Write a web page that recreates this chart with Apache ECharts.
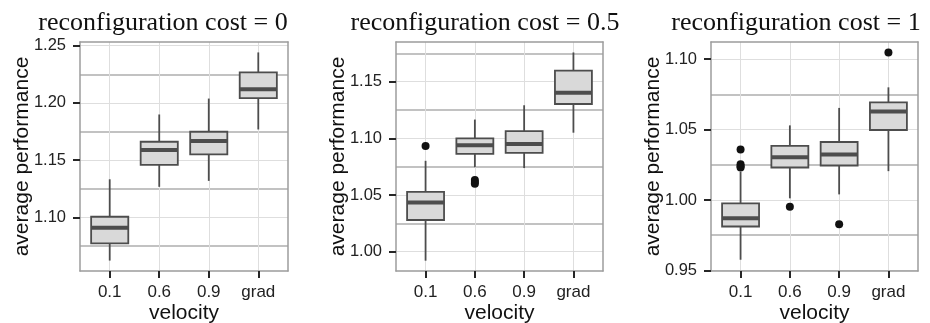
<!DOCTYPE html>
<html>
<head>
<meta charset="utf-8">
<script src="https://cdn.jsdelivr.net/npm/echarts@6/dist/echarts.min.js"></script>
<style>
html,body{margin:0;padding:0;background:#fff;}
#chart{width:930px;height:323px;}
</style>
</head>
<body>
<div id="chart"></div>
<script>
// ---- data ----
const velocity = ['0.1', '0.6', '0.9', 'grad'];
const panelTitles = ['reconfiguration cost = 0', 'reconfiguration cost = 0.5', 'reconfiguration cost = 1'];

// [lower whisker, Q1, median, Q3, upper whisker] per velocity
const boxCost0 = [
  [1.0623, 1.0774, 1.0910, 1.1006, 1.1333],
  [1.1267, 1.1458, 1.1588, 1.1661, 1.1899],
  [1.1319, 1.1551, 1.1667, 1.1748, 1.2038],
  [1.1768, 1.2041, 1.2119, 1.2267, 1.2441]
];
const boxCost05 = [
  [0.9921, 1.0280, 1.0434, 1.0528, 1.0802],
  [1.0746, 1.0863, 1.0939, 1.1000, 1.1166],
  [1.0738, 1.0872, 1.0950, 1.1064, 1.1292],
  [1.1050, 1.1303, 1.1402, 1.1598, 1.1758]
];
const boxCost1 = [
  [0.9576, 0.9812, 0.9871, 0.9976, 1.0200],
  [1.0012, 1.0231, 1.0304, 1.0384, 1.0530],
  [1.0040, 1.0245, 1.0323, 1.0412, 1.0654],
  [1.0205, 1.0497, 1.0629, 1.0694, 1.0800]
];
// outliers: [velocity index, value]
const outCost0 = [];
const outCost05 = [[0, 1.0933], [1, 1.0632], [1, 1.0615], [1, 1.0600]];
const outCost1 = [[0, 1.0358], [0, 1.0254], [0, 1.0240], [0, 1.0231], [1, 0.9953], [2, 0.9828], [3, 1.1048]];

const yTicks0 = [1.10, 1.15, 1.20, 1.25];
const yTicks05 = [1.00, 1.05, 1.10, 1.15];
const yTicks1 = [0.95, 1.00, 1.05, 1.10];
const yMinor0 = [1.075, 1.125, 1.175, 1.225];
const yMinor05 = [1.025, 1.075, 1.125, 1.175];
const yMinor1 = [0.975, 1.025, 1.075];
const yRange0 = [1.0532, 1.2532];
const yRange05 = [0.9830, 1.1850];
const yRange1 = [0.9496, 1.1122];
const xTicks = [1, 2, 3, 4];
const xRange = [0.4, 4.6];

// ---- layout ----
const grids = [
  {left: 80, top: 42, width: 208, height: 229},
  {left: 396, top: 42, width: 207, height: 229},
  {left: 711, top: 42, width: 207, height: 229}
];
const titleCenters = [158, 480, 791];

const panels = [
  {box: boxCost0, out: outCost0, ticks: yTicks0, minor: yMinor0, range: yRange0},
  {box: boxCost05, out: outCost05, ticks: yTicks05, minor: yMinor05, range: yRange05},
  {box: boxCost1, out: outCost1, ticks: yTicks1, minor: yMinor1, range: yRange1}
];

const sans = 'Liberation Sans, Arial, Helvetica, sans-serif';
const serif = 'Liberation Serif, Times New Roman, serif';
const dark = '#4D4D4D';
const borderCol = '#9c9c9c';
const tickCol = '#262626';
const TICK_LEN = 7;
const borderLine = {show: true, onZero: false, lineStyle: {color: borderCol, width: 1.5}};
const tickStyle = {show: true, inside: false, length: TICK_LEN, lineStyle: {color: tickCol, width: 2}};

const option = {
  animation: false,
  backgroundColor: '#ffffff',
  title: panelTitles.map((t, i) => ({
    text: t, left: titleCenters[i], top: 5, textAlign: 'center',
    textStyle: {fontFamily: serif, fontSize: 26, fontWeight: 'normal', color: '#111'}
  })),
  grid: grids.map(g => Object.assign({show: false, outerBoundsMode: 'none', containLabel: false}, g)),
  xAxis: [],
  yAxis: [],
  series: []
};

panels.forEach((p, i) => {
  // bottom x axis: labels, ticks, vertical grid lines
  option.xAxis.push({
    type: 'value', gridIndex: i, min: xRange[0], max: xRange[1], position: 'bottom',
    name: 'velocity', nameLocation: 'middle', nameGap: 32, nameMoveOverlap: false,
    nameTextStyle: {fontFamily: sans, fontSize: 21, color: '#111'},
    axisLine: borderLine,
    axisTick: Object.assign({customValues: xTicks}, tickStyle),
    axisLabel: {customValues: xTicks, margin: 13, fontFamily: sans, fontSize: 17, color: '#222',
      formatter: v => velocity[Math.round(v) - 1]},
    splitLine: {show: true, lineStyle: {color: '#dedede', width: 1}}
  });
  // top x axis: only the panel border
  option.xAxis.push({
    type: 'value', gridIndex: i, min: xRange[0], max: xRange[1], position: 'top',
    axisLine: borderLine, axisTick: {show: false}, axisLabel: {show: false}, splitLine: {show: false}
  });
  // left y axis (labels, ticks, major grid)
  option.yAxis.push({
    type: 'value', gridIndex: i, min: p.range[0], max: p.range[1], position: 'left',
    name: 'average performance', nameLocation: 'middle', nameGap: 47, nameMoveOverlap: false,
    nameTextStyle: {fontFamily: sans, fontSize: 21, color: '#111'},
    axisLine: borderLine,
    axisTick: Object.assign({customValues: p.ticks}, tickStyle),
    axisLabel: {customValues: p.ticks, margin: 14, fontFamily: sans, fontSize: 16.5, color: '#222',
      formatter: v => v.toFixed(2)},
    splitLine: {show: true, lineStyle: {color: '#dedede', width: 1}}
  });
  // right y axis: panel border + minor (mid-way) grid lines
  option.yAxis.push({
    type: 'value', gridIndex: i, min: p.range[0], max: p.range[1], position: 'right',
    axisLine: borderLine,
    axisTick: {show: false, customValues: p.minor},
    axisLabel: {show: false},
    splitLine: {show: true, lineStyle: {color: '#c2c2c2', width: 2}}
  });

  const boxData = p.box.map((b, k) => [k + 1].concat(b));
  option.series.push({
    type: 'custom', xAxisIndex: i * 2, yAxisIndex: i * 2, z: 3,
    encode: {x: 0, y: [1, 2, 3, 4, 5]},
    data: boxData,
    renderItem: function (params, api) {
      const x = api.value(0);
      const pLo = api.coord([x, api.value(1)]);
      const pQ1 = api.coord([x, api.value(2)]);
      const pMed = api.coord([x, api.value(3)]);
      const pQ3 = api.coord([x, api.value(4)]);
      const pHi = api.coord([x, api.value(5)]);
      const w = api.size([0.75, 0])[0];
      const h = w / 2;
      return {
        type: 'group',
        children: [
          {type: 'line', shape: {x1: pHi[0], y1: pHi[1], x2: pQ3[0], y2: pQ3[1]}, style: {stroke: dark, lineWidth: 1.8}},
          {type: 'line', shape: {x1: pQ1[0], y1: pQ1[1], x2: pLo[0], y2: pLo[1]}, style: {stroke: dark, lineWidth: 1.8}},
          {type: 'rect', shape: {x: pQ3[0] - h, y: pQ3[1], width: w, height: pQ1[1] - pQ3[1]},
            style: {fill: '#d9d9d9', stroke: dark, lineWidth: 1.8}},
          {type: 'line', shape: {x1: pMed[0] - h, y1: pMed[1], x2: pMed[0] + h, y2: pMed[1]},
            style: {stroke: dark, lineWidth: 4}}
        ]
      };
    }
  });
  option.series.push({
    type: 'scatter', xAxisIndex: i * 2, yAxisIndex: i * 2, z: 4,
    symbol: 'circle', symbolSize: 8,
    itemStyle: {color: '#111', opacity: 1},
    data: p.out.map(o => [o[0] + 1, o[1]])
  });
});

const chart = echarts.init(document.getElementById('chart'));
chart.setOption(option);
</script>
</body>
</html>
